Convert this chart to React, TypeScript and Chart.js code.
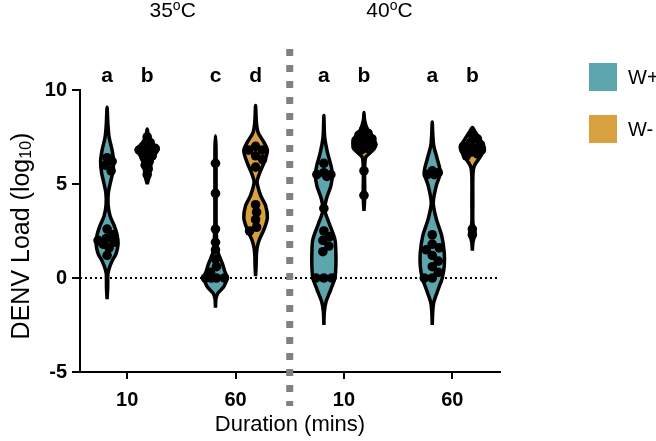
import React, { useEffect, useRef } from 'react';
import { Chart, registerables } from 'chart.js';
Chart.register(...registerables);

// ---------- data ----------
const xTickLabels = ['10', '60', '10', '60'];
const groupTitleNums = ['35', '40'];
const seriesNames = ['W+', 'W-'];
const sigLetters = ['a', 'b', 'c', 'd', 'a', 'b', 'a', 'b'];

// violin outlines: y levels (log10 load) and relative half-widths (density)
const wPlus10a_y = [-1.13, -0.5, 0.2, 0.5, 0.9, 1.3, 1.8, 2.3, 2.8, 3.3, 3.9, 4.5, 5.0, 5.6, 6.2, 6.8, 7.5, 8.2, 9.08];
const wPlus10a_w = [0, 0.6, 0.8, 2, 5, 9, 11, 10, 7, 3, 1, 1.2, 3, 5.5, 6.5, 5, 2, 0.8, 0];
const wPlus10a_pts = [6.4, 6.2, 6.0, 5.7, 2.6, 2.3, 2.1, 2.0, 1.9, 1.8, 1.6, 1.2];

const wMinus10a_y = [5.0, 5.3, 5.8, 6.3, 6.6, 6.85, 7.1, 7.4, 7.6, 7.93];
const wMinus10a_w = [0, 1.5, 3, 5, 8, 11, 6, 2.5, 1, 0];
const wMinus10a_pts = [7.5, 7.2, 7.0, 6.9, 6.85, 6.8, 6.8, 6.75, 6.7, 6.65, 6.5, 6.4, 6.2, 6.0, 5.8, 5.5];

const wPlus60a_y = [-1.58, -1.1, -0.8, -0.45, 0.0, 0.4, 0.75, 1.45, 2.2, 3.0, 4.0, 5.0, 6.0, 7.0, 7.57];
const wPlus60a_w = [0, 0.5, 2.5, 8.5, 11.5, 9, 7, 2, 1, 0.6, 0.6, 0.6, 0.6, 0.5, 0];
const wPlus60a_pts = [6.1, 4.5, 2.6, 1.9, 1.5, 1.0, 0.6, 0.3, 0, 0, 0, 0];

const wMinus60a_y = [0.1, 0.6, 1.2, 1.6, 2.0, 2.6, 3.2, 3.85, 4.4, 5.1, 5.5, 6.15, 6.77, 7.2, 7.75, 8.3, 9.17];
const wMinus60a_w = [0, 0.5, 0.8, 1.5, 3.5, 8.5, 11.8, 10, 5, 1.5, 3.5, 8.5, 11.8, 8.5, 2.5, 0.8, 0];
const wMinus60a_pts = [7.0, 6.8, 6.8, 6.5, 6.3, 5.9, 3.9, 3.5, 3.1, 2.7, 2.5];

const wPlus10b_y = [-2.5, -1.8, -1.3, -0.6, 0.0, 0.64, 1.35, 2.06, 2.95, 3.6, 4.2, 4.9, 5.5, 6.0, 6.7, 7.5, 8.64];
const wPlus10b_w = [0, 0.5, 2, 7, 11, 12, 12, 11, 5, 1, 2.5, 7, 8.5, 7, 3.5, 0.8, 0];
const wPlus10b_pts = [6.1, 5.6, 5.5, 5.5, 5.4, 3.7, 2.5, 2.2, 2.0, 1.7, 1.4, 0, 0, 0];

const wMinus10b_y = [3.57, 4.0, 4.5, 5.5, 6.2, 6.45, 6.7, 6.95, 7.4, 7.9, 8.4, 8.8];
const wMinus10b_w = [0, 0.5, 0.8, 0.6, 1, 2, 7, 11, 10, 3.5, 0.6, 0];
const wMinus10b_pts = [7.9, 7.7, 7.6, 7.5, 7.4, 7.3, 7.3, 7.2, 7.1, 7.0, 6.9, 6.8, 5.7, 4.4];

const wPlus60b_y = [-2.5, -1.8, -1.3, -0.6, 0.0, 0.64, 1.35, 2.24, 3.15, 4.0, 4.9, 5.6, 6.33, 7.04, 7.7, 8.3];
const wPlus60b_w = [0, 0.5, 1.5, 6, 10, 12, 12, 9.5, 4, 1, 4, 8, 5, 1.5, 0.5, 0];
const wPlus60b_pts = [5.7, 5.6, 5.5, 5.5, 2.3, 1.8, 1.6, 1.5, 1.2, 0.9, 0.6, 0.3, 0, 0];

const wMinus60b_y = [1.45, 1.9, 2.4, 2.9, 4.0, 5.5, 5.97, 6.5, 6.9, 7.3, 7.75, 8.0];
const wMinus60b_w = [0, 0.6, 2.5, 0.6, 0.5, 0.6, 2, 8.5, 12, 8.5, 3, 0];
const wMinus60b_pts = [7.6, 7.4, 7.2, 7.1, 7.0, 6.9, 6.9, 6.8, 6.8, 6.7, 6.6, 6.5, 2.6, 2.3];

// ---------- styling ----------
const COLORS = ['#5ea6ae', '#d8a03e'];
const FONT = "'Liberation Sans', Arial, Helvetica, sans-serif";
const X_MIN = -0.435;
const X_MAX = 3.44;
const SERIES_OFFSET = 0.185;
const DENSITY_TO_X = 1 / 108.4;

const violins = [
  { cat: 0, s: 0, y: wPlus10a_y, w: wPlus10a_w, pts: wPlus10a_pts },
  { cat: 0, s: 1, y: wMinus10a_y, w: wMinus10a_w, pts: wMinus10a_pts },
  { cat: 1, s: 0, y: wPlus60a_y, w: wPlus60a_w, pts: wPlus60a_pts },
  { cat: 1, s: 1, y: wMinus60a_y, w: wMinus60a_w, pts: wMinus60a_pts },
  { cat: 2, s: 0, y: wPlus10b_y, w: wPlus10b_w, pts: wPlus10b_pts },
  { cat: 2, s: 1, y: wMinus10b_y, w: wMinus10b_w, pts: wMinus10b_pts },
  { cat: 3, s: 0, y: wPlus60b_y, w: wPlus60b_w, pts: wPlus60b_pts },
  { cat: 3, s: 1, y: wMinus60b_y, w: wMinus60b_w, pts: wMinus60b_pts },
].map((v) => ({ ...v, center: v.cat + (v.s === 0 ? -SERIES_OFFSET : SERIES_OFFSET) }));

function outline(center: number, ys: number[], ws: number[]) {
  const right = ys.map((y, i) => ({ x: center + ws[i] * DENSITY_TO_X, y }));
  const left = ys
    .map((y, i) => ({ x: center - ws[i] * DENSITY_TO_X, y }))
    .reverse()
    .slice(1);
  return [...right, ...left];
}

function widthAt(ys: number[], ws: number[], v: number) {
  if (v <= ys[0]) return ws[0];
  for (let i = 1; i < ys.length; i++) {
    if (v <= ys[i]) {
      const t = (v - ys[i - 1]) / (ys[i] - ys[i - 1]);
      return ws[i - 1] + t * (ws[i] - ws[i - 1]);
    }
  }
  return ws[ws.length - 1];
}

// scatter layout: spread dots sideways, but never beyond the violin outline
function swarm(center: number, values: number[], ys: number[], ws: number[]) {
  const PXX = 108.4, PXY = 18.8, D = 8.4;
  const placed: { px: number; py: number }[] = [];
  const sorted = [...values].sort((a, b) => b - a);
  const out: { x: number; y: number }[] = [];
  for (const v of sorted) {
    const py = v * PXY;
    const lim = Math.max(0, widthAt(ys, ws, v) - 1.5);
    let best = 0, bestScore = -Infinity;
    const cands: number[] = [0];
    for (let d = 1; d <= lim; d += 1) { cands.push(d, -d); }
    for (const c of cands) {
      const minD = placed.length ? Math.min(...placed.map((p) => Math.hypot(p.px - c, p.py - py))) : Infinity;
      if (minD >= D * 0.9) { best = c; bestScore = Infinity; break; }
      if (minD > bestScore) { bestScore = minD; best = c; }
    }
    placed.push({ px: best, py });
    out.push({ x: center + best / PXX, y: v });
  }
  return out;
}

const annotPlugin = {
  id: 'annot',
  afterDraw(chart: any) {
    const { ctx, chartArea, scales } = chart;
    const xs = scales.x;
    ctx.save();
    // vertical separator
    const sx = xs.getPixelForValue(1.5);
    ctx.strokeStyle = '#808080';
    ctx.lineWidth = 7;
    ctx.setLineDash([7, 9]);
    ctx.beginPath();
    ctx.moveTo(sx, chartArea.top - 41);
    ctx.lineTo(sx, chartArea.bottom + 34);
    ctx.stroke();
    ctx.setLineDash([]);

    ctx.fillStyle = '#000';
    // significance letters
    ctx.font = `bold 21px ${FONT}`;
    ctx.textAlign = 'center';
    ctx.textBaseline = 'alphabetic';
    violins.forEach((v, i) => {
      ctx.fillText(sigLetters[i], xs.getPixelForValue(v.center), chartArea.top - 8);
    });

    // group titles  35ºC / 40ºC
    const titleCenters = [xs.getPixelForValue(0.42), xs.getPixelForValue(2.42)];
    groupTitleNums.forEach((num, i) => {
      ctx.textAlign = 'left';
      ctx.font = `21px ${FONT}`;
      const wNum = ctx.measureText(num).width;
      const wC = ctx.measureText('C').width;
      ctx.font = `14px ${FONT}`;
      const wO = ctx.measureText('o').width;
      const total = wNum + wO + wC;
      let x = titleCenters[i] - total / 2;
      const base = 17;
      ctx.font = `21px ${FONT}`;
      ctx.fillText(num, x, base);
      x += wNum;
      ctx.font = `14px ${FONT}`;
      ctx.fillText('o', x, base - 7);
      x += wO;
      ctx.font = `21px ${FONT}`;
      ctx.fillText('C', x, base);
    });

    // y axis title with subscript
    ctx.save();
    ctx.translate(22, 236);
    ctx.rotate(-Math.PI / 2);
    ctx.textBaseline = 'middle';
    ctx.textAlign = 'left';
    const p1 = 'DENV Load (log';
    const p2 = '10';
    const p3 = ')';
    ctx.font = `25px ${FONT}`;
    const w1 = ctx.measureText(p1).width;
    const w3 = ctx.measureText(p3).width;
    ctx.font = `16px ${FONT}`;
    const w2 = ctx.measureText(p2).width;
    let tx = -(w1 + w2 + w3) / 2;
    ctx.font = `25px ${FONT}`;
    ctx.fillText(p1, tx, 0);
    tx += w1;
    ctx.font = `16px ${FONT}`;
    ctx.fillText(p2, tx, 5);
    tx += w2;
    ctx.font = `25px ${FONT}`;
    ctx.fillText(p3, tx, 0);
    ctx.restore();

    // x axis title
    ctx.font = `22px ${FONT}`;
    ctx.textAlign = 'center';
    ctx.textBaseline = 'alphabetic';
    ctx.fillText('Duration (mins)', (chartArea.left + chartArea.right) / 2, 431);

    // legend
    seriesNames.forEach((name, i) => {
      const top = chartArea.top - 27 + i * 52;
      ctx.fillStyle = COLORS[i];
      ctx.fillRect(589, top, 28, 28);
      ctx.fillStyle = '#000';
      ctx.font = `20px ${FONT}`;
      ctx.textAlign = 'left';
      ctx.textBaseline = 'middle';
      ctx.fillText(name, 628, top + 15);
    });
    ctx.restore();
  },
};

export default function App() {
  const ref = useRef<HTMLCanvasElement | null>(null);
  useEffect(() => {
    if (!ref.current) return;
    const datasets: any[] = [];
    datasets.push({
      data: [{ x: X_MIN, y: 0 }, { x: X_MAX, y: 0 }],
      borderColor: '#000',
      borderWidth: 2,
      borderDash: [2, 3],
      pointRadius: 0,
      fill: false,
      order: 3,
    });
    violins.forEach((v) => {
      datasets.push({
        data: outline(v.center, v.y, v.w),
        backgroundColor: COLORS[v.s],
        borderColor: '#000',
        borderWidth: 3.5,
        borderJoinStyle: 'round',
        pointRadius: 0,
        tension: 0.3,
        fill: 'shape',
        order: 2,
      });
      datasets.push({
        data: swarm(v.center, v.pts, v.y, v.w),
        showLine: false,
        pointRadius: 4.8,
        pointBackgroundColor: '#000',
        pointBorderWidth: 0,
        order: 1,
      });
    });

    const chart = new Chart(ref.current, {
      type: 'line',
      data: { datasets },
      options: {
        animation: false,
        responsive: true,
        maintainAspectRatio: false,
        events: [],
        layout: { padding: { left: 0, right: 156, top: 90, bottom: 0 } },
        plugins: { legend: { display: false }, tooltip: { enabled: false } },
        scales: {
          x: {
            type: 'linear',
            min: X_MIN,
            max: X_MAX,
            afterBuildTicks: (scale: any) => {
              scale.ticks = xTickLabels.map((_, i) => ({ value: i }));
            },
            afterFit: (scale: any) => { scale.height = 69; },
            ticks: {
              callback: (v: any) => xTickLabels[v] ?? '',
              font: { family: FONT, size: 20, weight: 'bold' },
              color: '#000',
              padding: 9,
              maxRotation: 0,
            },
            grid: { drawOnChartArea: false, drawTicks: true, tickLength: 7, color: '#000', lineWidth: 2 },
            border: { color: '#000', width: 2 },
          },
          y: {
            min: -5,
            max: 10,
            afterFit: (scale: any) => { scale.width = 80; },
            ticks: {
              stepSize: 5,
              font: { family: FONT, size: 20, weight: 'bold' },
              color: '#000',
              padding: 5,
            },
            grid: { drawOnChartArea: false, drawTicks: true, tickLength: 8, color: '#000', lineWidth: 2 },
            border: { color: '#000', width: 2 },
          },
        },
      },
      plugins: [annotPlugin],
    } as any);
    return () => chart.destroy();
  }, []);
  return (
    <div style={{ position: 'fixed', left: 0, top: 0, width: 656, height: 441, background: '#fff' }}>
      <canvas ref={ref} />
    </div>
  );
}
